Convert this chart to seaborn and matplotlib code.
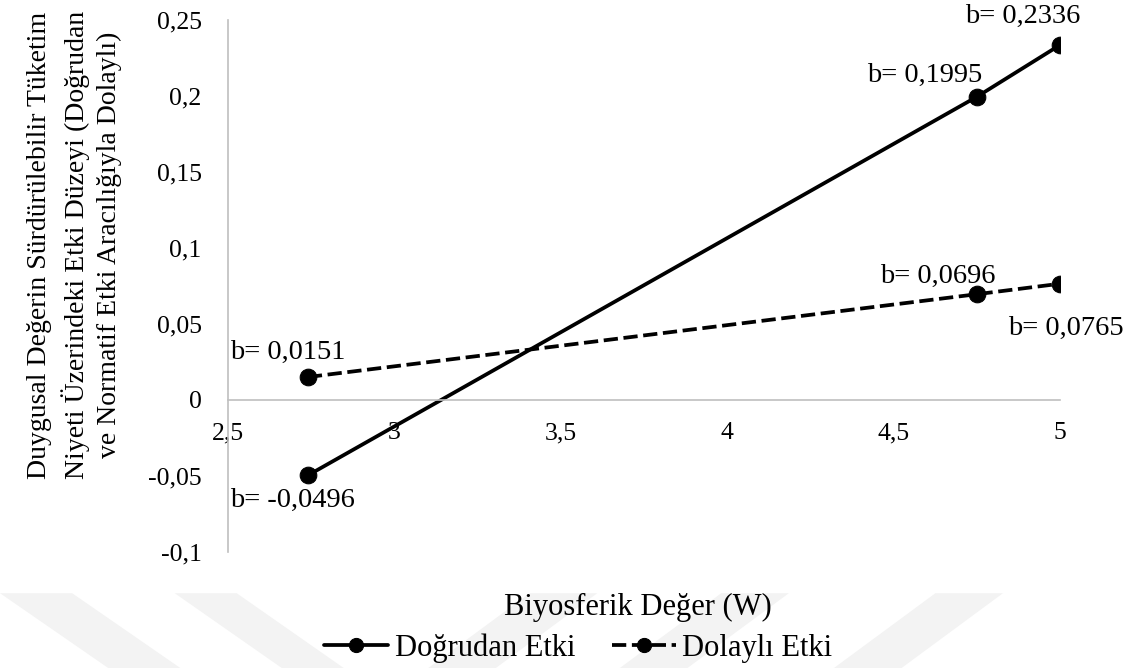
import matplotlib
matplotlib.use("Agg")
import matplotlib.pyplot as plt
from matplotlib.patches import Polygon
import seaborn as sns
import pandas as pd

# ---- data ----
w_values = [2.74, 4.75, 5.0]
direct_effect = [-0.0496, 0.1995, 0.2336]
indirect_effect = [0.0151, 0.0696, 0.0765]
direct_labels = ["b= -0,0496", "b= 0,1995", "b= 0,2336"]
indirect_labels = ["b= 0,0151", "b= 0,0696", "b= 0,0765"]
series_names = ["Doğrudan Etki", "Dolaylı Etki"]
x_ticks = [2.5, 3.0, 3.5, 4.0, 4.5, 5.0]
x_tick_labels = ["2,5", "3", "3,5", "4", "4,5", "5"]
y_ticks = [-0.1, -0.05, 0.0, 0.05, 0.1, 0.15, 0.2, 0.25]
y_tick_labels = ["-0,1", "-0,05", "0", "0,05", "0,1", "0,15", "0,2", "0,25"]
x_title = "Biyosferik Değer (W)"
y_title = ("Duygusal Değerin Sürdürülebilir Tüketim\n"
           "Niyeti Üzerindeki Etki Düzeyi (Doğrudan\n"
           "ve Normatif Etki Aracılığıyla Dolaylı)")

sns.set_theme(style="white")
plt.rcParams["font.family"] = ["Liberation Serif", "DejaVu Serif"]
plt.rcParams["text.color"] = "black"

df = pd.DataFrame({
    "W": w_values * 2,
    "effect": direct_effect + indirect_effect,
    "series": [series_names[0]] * 3 + [series_names[1]] * 3,
})

fig = plt.figure(figsize=(11.27, 6.68), dpi=100)

# faint background watermark stripes (decoration)
stripe_col = "#f3f3f3"
stripes = [
    [(0, 0.112), (0.064, 0.112), (0.16, 0.0), (0.096, 0.0)],
    [(0.155, 0.112), (0.21, 0.112), (0.305, 0.0), (0.25, 0.0)],
    [(0.47, 0.112), (0.53, 0.112), (0.44, 0.0), (0.38, 0.0)],
    [(0.64, 0.112), (0.70, 0.112), (0.61, 0.0), (0.55, 0.0)],
    [(0.83, 0.112), (0.89, 0.112), (0.80, 0.0), (0.74, 0.0)],
]
for s in stripes:
    fig.patches.append(Polygon(s, closed=True, transform=fig.transFigure,
                               facecolor=stripe_col, edgecolor="none", zorder=-10))

ax = fig.add_axes([0.2023, 0.1737, 0.7383, 0.7963])
ax.set_facecolor("none")

sns.lineplot(data=df[df["series"] == series_names[0]], x="W", y="effect",
             ax=ax, color="black", linewidth=2.7, marker="o", markersize=12,
             markeredgecolor="black", label=series_names[0])
sns.lineplot(data=df[df["series"] == series_names[1]], x="W", y="effect",
             ax=ax, color="black", linewidth=2.7, marker="o", markersize=12,
             markeredgecolor="black", label=series_names[1])
ax.lines[1].set_linestyle((0, (3.8, 1.5)))

ax.set_xlim(2.5, 5.0)
ax.set_ylim(-0.1, 0.25)
ax.set_xticks(x_ticks)
ax.set_xticklabels(x_tick_labels)
ax.set_yticks(y_ticks)
ax.set_yticklabels(y_tick_labels)
ax.tick_params(axis="both", length=0, labelsize=18.5, colors="black")
ax.tick_params(axis="x", pad=16)
ax.tick_params(axis="y", pad=19)

for sp in ["top", "right"]:
    ax.spines[sp].set_visible(False)
ax.spines["left"].set_color("#bfbfbf")
ax.spines["left"].set_linewidth(1.2)
ax.spines["bottom"].set_position(("data", 0))
ax.spines["bottom"].set_color("#bfbfbf")
ax.spines["bottom"].set_linewidth(1.2)
ax.grid(False)

ax.set_xlabel("")
ax.set_ylabel("")
fig.text(0.566, 0.091, x_title, ha="center", va="center", fontsize=22)
fig.text(0.0665, 0.633, y_title, ha="center", va="center", rotation=90,
         fontsize=20, linespacing=1.38)

# annotations
ann_fs = 20.5
d_offsets = [(-15, -25), (-52, 21), (-37, 29)]
i_offsets = [(-20, 25), (-39, 18), (6, -45)]
for x, y, t, off in zip(w_values, direct_effect, direct_labels, d_offsets):
    ax.annotate(t, (x, y), xytext=off, textcoords="offset pixels",
                ha="center", va="center", fontsize=ann_fs, annotation_clip=False)
for x, y, t, off in zip(w_values, indirect_effect, indirect_labels, i_offsets):
    ax.annotate(t, (x, y), xytext=off, textcoords="offset pixels",
                ha="center", va="center", fontsize=ann_fs, annotation_clip=False)

handles, labels = ax.get_legend_handles_labels()
ax.get_legend().remove()
fig.legend(handles, labels, loc="center", bbox_to_anchor=(0.513, 0.03),
           ncol=2, frameon=False, fontsize=22, handlelength=2.1,
           handletextpad=0.2, columnspacing=1.2, markerscale=0.85)

fig.savefig("out.png", dpi=100)
